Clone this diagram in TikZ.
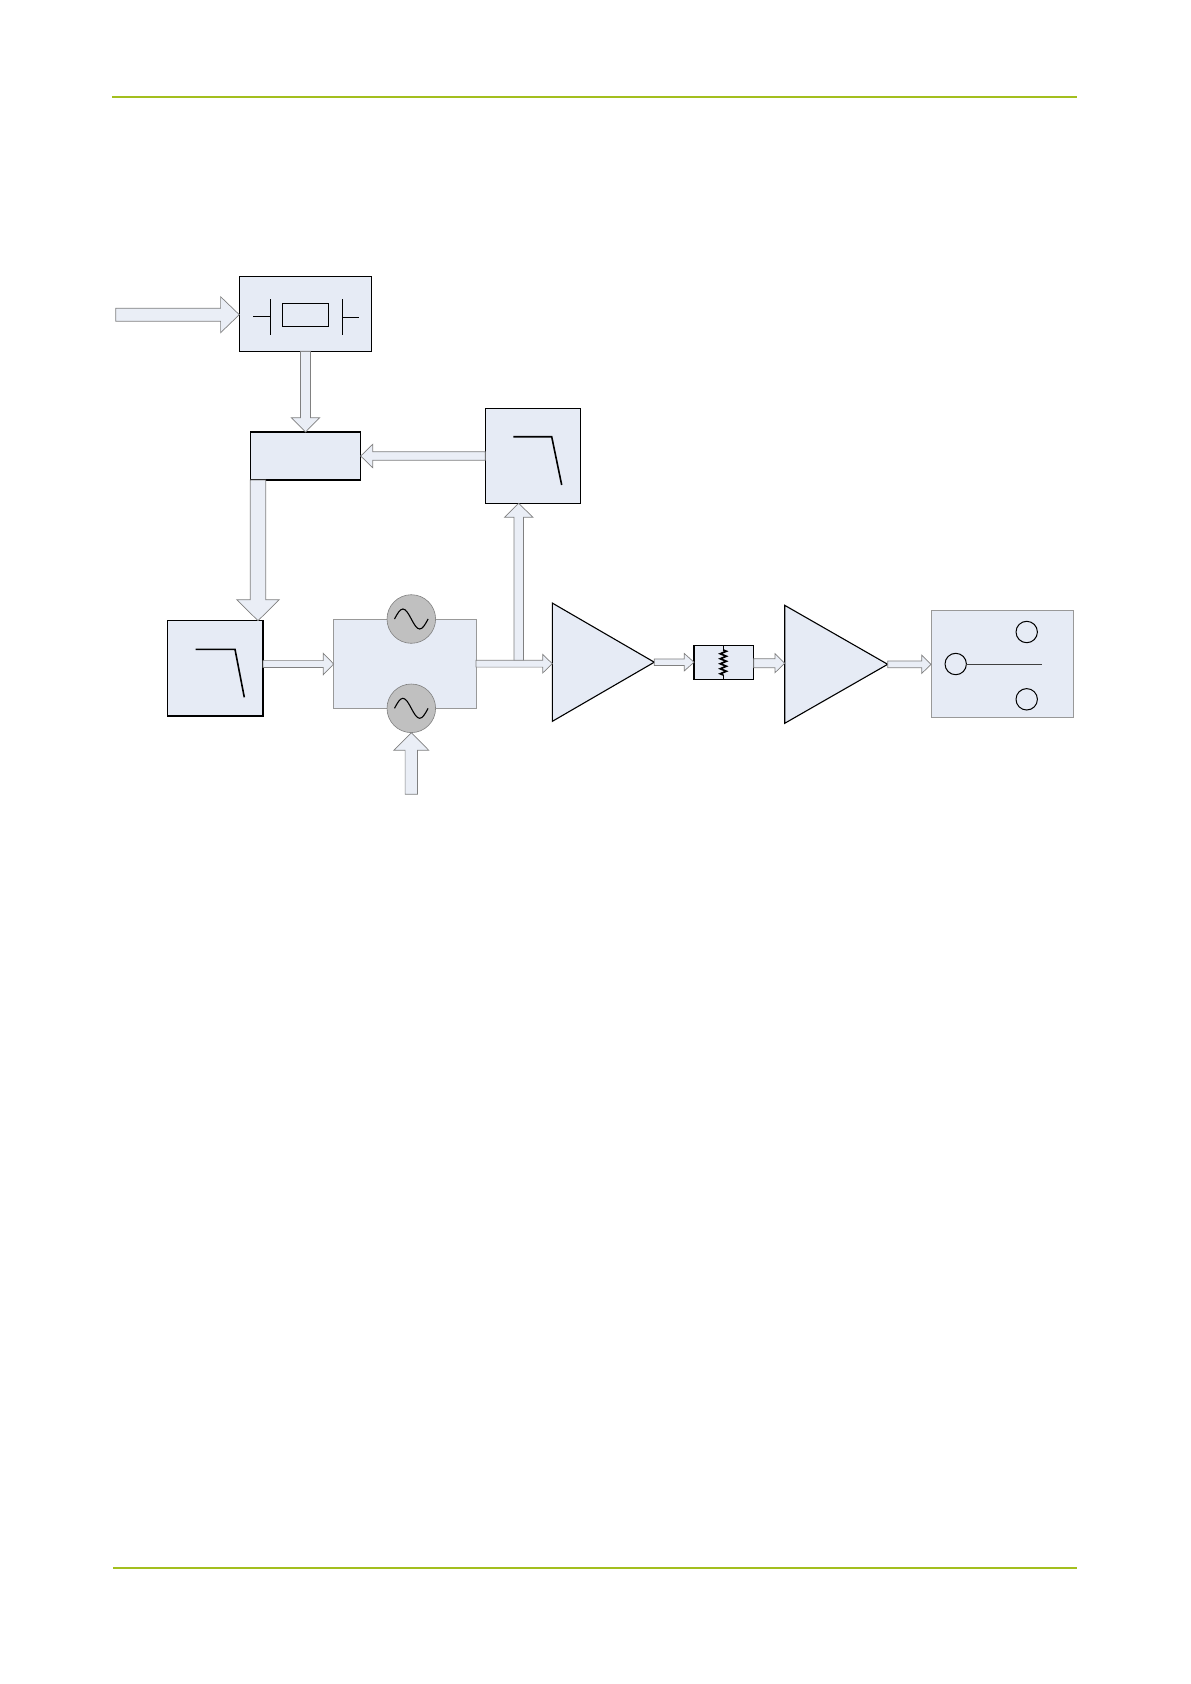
\documentclass[tikz,border=0pt]{standalone}
\usepackage{xcolor}
\usepackage{tikz}
\usetikzlibrary{calc,shapes.geometric,decorations.pathmorphing}
\definecolor{boxblue}{HTML}{E6EBF5}
\definecolor{rulegreen}{HTML}{A3BF1E}
\definecolor{oscgrey}{HTML}{C0C0C0}
\definecolor{edgegrey}{HTML}{808080}
\tikzset{
  bluebox/.style={rectangle,draw=black,fill=boxblue,line width=1.1pt,inner sep=0pt,outer sep=0pt},
  paleblock/.style={rectangle,draw=edgegrey!80,fill=boxblue,line width=0.9pt,inner sep=0pt,outer sep=0pt},
  ampshape/.style={isosceles triangle,isosceles triangle stretches,draw=black,fill=boxblue,line width=1.1pt,
    inner sep=0pt,outer sep=0pt,anchor=lower side},
  oscshape/.style={circle,draw=edgegrey,fill=oscgrey,line width=0.6pt,minimum size=48.6pt,inner sep=0pt,outer sep=0pt},
  portshape/.style={circle,draw=black,line width=1pt,minimum size=21.4pt,inner sep=0pt,outer sep=0pt},
  blockarrow/.style n args={3}{draw=edgegrey,fill=boxblue!85!white,line width=0.7pt,to path={
    ($(\tikztostart)!#1pt!90:(\tikztotarget)$)
    -- ($(\tikztotarget)!#3pt!(\tikztostart)!#1pt!90:(\tikztotarget)$)
    -- ($(\tikztotarget)!#3pt!(\tikztostart)!#2pt!90:(\tikztotarget)$)
    -- (\tikztotarget)
    -- ($(\tikztotarget)!#3pt!(\tikztostart)!#2pt!-90:(\tikztotarget)$)
    -- ($(\tikztotarget)!#3pt!(\tikztostart)!#1pt!-90:(\tikztotarget)$)
    -- ($(\tikztostart)!#1pt!-90:(\tikztotarget)$) -- cycle}},
  rolloff/.style={draw=black,line width=1.6pt},
  symline/.style={draw=black,line width=0.9pt},
  pagerule/.style={draw=rulegreen,line width=1.6pt}
}
\begin{document}
\begin{tikzpicture}[x=1pt,y=-1pt]
\useasboundingbox (0,0) rectangle (1191,1684);
\draw[pagerule] (112,96.7) -- (1076.5,96.7);
\draw[pagerule] (113,1568) -- (1076.5,1568);
% blocks
\draw (305.5,314) node[bluebox,minimum width=132.4pt,minimum height=74.6pt] (xtal) {};
\draw (305.5,315) node[bluebox,minimum width=46.4pt,minimum height=22.6pt] (xtalbody) {};
\draw (305.5,456) node[bluebox,minimum width=110.4pt,minimum height=48pt] (mixer) {};
\draw (532.8,456) node[bluebox,minimum width=95pt,minimum height=94.6pt] (lpfa) {};
\draw (215.3,668.3) node[bluebox,minimum width=95.3pt,minimum height=95.3pt] (lpfb) {};
\draw (404.9,663.6) node[paleblock,minimum width=142.3pt,minimum height=88.7pt] (mod) {};
\draw (411.3,619) node[oscshape] (osctop) {};
\draw (411.3,708.3) node[oscshape] (oscbot) {};
\draw (552.3,662.2) node[ampshape,minimum height=102pt,minimum width=118.3pt] (ampa) {};
\draw (723.8,662.7) node[bluebox,minimum width=59.7pt,minimum height=34pt] (atten) {};
\draw (784.7,664.3) node[ampshape,minimum height=103pt,minimum width=118pt] (ampb) {};
\draw (1002.2,663.9) node[paleblock,minimum width=142.3pt,minimum height=106.3pt] (switch) {};
% crystal symbol
\draw[symline] (270.7,299.3) -- (270.7,335.3);
\draw[symline] (253.3,316.3) -- (270.7,316.3);
\draw[symline] (342.3,299.3) -- (342.3,335.3);
\draw[symline] (342.3,317.3) -- (359,317.3);
% filter curves
\draw[rolloff] (513.3,436.7) -- (551.7,436.7) -- (561.7,485);
\draw[rolloff] (195.7,649.3) -- (235,649.3) -- (244.3,697.3);
% sine waves
\foreach \osc in {osctop,oscbot}
  \draw[symline,line width=1.1pt] ($(\osc)+(-16.8,0)$) sin ++(8.4,-10) cos ++(8.4,10) sin ++(8.4,10) cos ++(8.4,-10);
% resistor
\draw[symline,line width=1.1pt] (723.3,645.7) -- (723.3,650);
\draw[symline,line width=1.1pt] (723.3,675) -- (723.3,679.7);
\draw[symline,line width=1.7pt,decorate,decoration={zigzag,segment length=5pt,amplitude=3pt}] (723.3,650) -- (723.3,675);
% switch
\draw (955.7,664) node[portshape] (common) {};
\draw (1026.7,632) node[portshape] (portup) {};
\draw (1026.7,699.3) node[portshape] (portdown) {};
\coordinate (blade) at (1041.7,664);
\draw[symline,draw=black!75] (common.east) -- (blade);
% free ends and offset ports
\coordinate (inxtal) at (115.7,314.7);
\coordinate (xtalin) at (239.3,314.7);
\coordinate (mixout) at (258,480);
\coordinate (lpfbin) at (258,620.7);
\coordinate (lpfbout) at (263,664);
\coordinate (modin) at (333.7,664);
\coordinate (modout) at (476,663.7);
\coordinate (ampain) at (552.3,663.7);
\coordinate (tap) at (518.7,661);
\coordinate (lpfain) at (518.7,503.3);
\coordinate (inosc) at (411.3,794.3);
\coordinate (oscin) at (411.3,732.7);
\coordinate (attenin) at (694,662.2);
\coordinate (attenout) at (753.7,663.2);
\coordinate (ampbin) at (784.7,663.2);
\coordinate (switchin) at (931,664.3);
% arrows
\draw[blockarrow={6.5}{18}{18.7}] (inxtal) to (xtalin);
\draw[blockarrow={5}{14.2}{14.3}] (xtal.south) to (mixer.north);
\draw[blockarrow={4.3}{11.7}{12}] (lpfa.west) to (mixer.east);
\draw[blockarrow={7.7}{21.2}{21}] (mixout) to (lpfbin);
\draw[blockarrow={3.4}{10.7}{10.4}] (lpfbout) to (modin);
\draw[blockarrow={4.7}{14.2}{14}] (tap) to (lpfain);
\draw[blockarrow={3.4}{9.3}{9.6}] (modout) to (ampain);
\draw[blockarrow={6.2}{17.5}{17.6}] (inosc) to (oscin);
\draw[blockarrow={3.3}{8.7}{9.7}] (ampa.apex) to (attenin);
\draw[blockarrow={4.5}{9.5}{9.7}] (attenout) to (ampbin);
\draw[blockarrow={3.4}{9.2}{9.3}] (ampb.apex) to (switchin);
\end{tikzpicture}
\end{document}
